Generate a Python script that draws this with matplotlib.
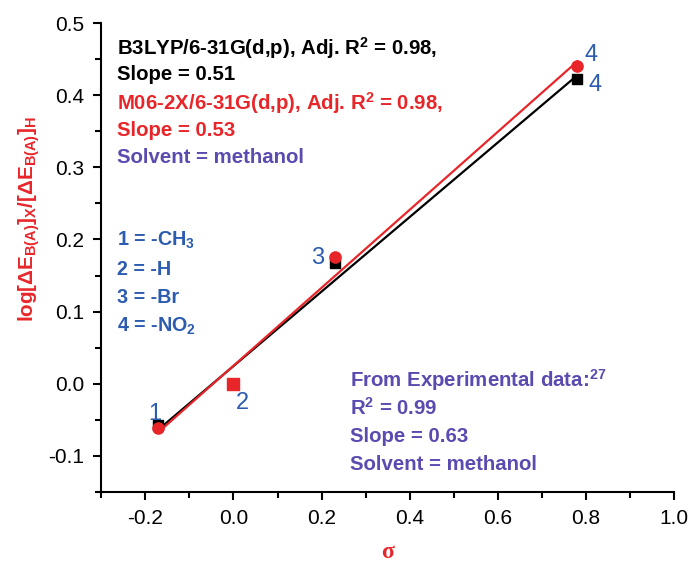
import numpy as np
import matplotlib
matplotlib.use("Agg")
import matplotlib.pyplot as plt

plt.rcParams['font.family'] = ['Liberation Sans', 'DejaVu Sans']
plt.rcParams['mathtext.fontset'] = 'custom'
plt.rcParams['mathtext.rm'] = 'Liberation Sans'
plt.rcParams['mathtext.bf'] = 'Liberation Sans:bold'
plt.rcParams['mathtext.it'] = 'Liberation Sans:italic'

# Hammett constants and log ratios
sigma = [-0.17, 0.0, 0.23, 0.78]
b3lyp = [-0.057, 0.0, 0.167, 0.422]
m062x = [-0.062, 0.0, 0.176, 0.440]
point_labels = ['1', '2', '3', '4']

RED = '#e8262a'
PURPLE = '#5a4bb0'
BLUE = '#2c5cb0'
FS = 14.7

fig = plt.figure(figsize=(6.93, 5.62), dpi=100)
ax = fig.add_axes([0.146, 0.1246, 0.827, 0.8344])

xs = np.array(sigma)
for ys, col in [(b3lyp, 'black'), (m062x, RED)]:
    k, c = np.polyfit(xs, ys, 1)
    ax.plot([xs.min(), xs.max()], [k * xs.min() + c, k * xs.max() + c], color=col, lw=1.6, zorder=2)

ax.scatter(sigma, b3lyp, marker='s', s=55, color='black', zorder=3)
ax.scatter(sigma[:1] + sigma[2:], m062x[:1] + m062x[2:], marker='o', s=65, color=RED, zorder=4)
ax.scatter(sigma[1:2], m062x[1:2], marker='s', s=65, color=RED, zorder=4)

# point numbers
lab_pos = [(-0.178, -0.042), (0.02, -0.026), (0.19, 0.174), (0.812, 0.456)]
for (x, y), t in zip(lab_pos, point_labels):
    ax.text(x, y, t, color=BLUE, fontsize=17, ha='center', va='center')
ax.text(0.82, 0.414, point_labels[3], color=BLUE, fontsize=17, ha='center', va='center')

# annotations
tx = -0.264
ax.text(tx, 0.465, r'B3LYP/6-31G(d,p), Adj. R$^\mathbf{2}$ = 0.98,', color='black',
        fontsize=FS, fontweight='bold', va='center')
ax.text(tx, 0.428, 'Slope = 0.51', color='black', fontsize=FS, fontweight='bold', va='center')
ax.text(tx, 0.389, r'M06-2X/6-31G(d,p), Adj. R$^\mathbf{2}$ = 0.98,', color=RED,
        fontsize=FS, fontweight='bold', va='center')
ax.text(tx, 0.351, 'Slope = 0.53', color=RED, fontsize=FS, fontweight='bold', va='center')
ax.text(tx, 0.314, 'Solvent = methanol', color=PURPLE, fontsize=FS, fontweight='bold', va='center')

subs = [r'1 = -CH$_\mathbf{3}$', '2 = -H', '3 = -Br', r'4 = -NO$_\mathbf{2}$']
for i, s in enumerate(subs):
    ax.text(tx, 0.199 - i * 0.04, s, color=BLUE, fontsize=14.2, fontweight='bold', va='center')

ex = 0.265
exp_lines = [r'From Experimental data:$^\mathbf{27}$', r'R$^\mathbf{2}$ = 0.99',
             'Slope = 0.63', 'Solvent = methanol']
for i, s in enumerate(exp_lines):
    ax.text(ex, 0.005 - i * 0.039, s, color=PURPLE, fontsize=FS, fontweight='bold', va='center')

ax.set_xlim(-0.3, 1.0)
ax.set_ylim(-0.15, 0.5)
ax.set_xticks([-0.2, 0.0, 0.2, 0.4, 0.6, 0.8, 1.0])
ax.set_xticks(np.arange(-0.3, 1.01, 0.1), minor=True)
ax.set_yticks([-0.1, 0.0, 0.1, 0.2, 0.3, 0.4, 0.5])
ax.set_yticks(np.arange(-0.15, 0.51, 0.05), minor=True)
ax.set_xticklabels(['-0.2', '0.0', '0.2', '0.4', '0.6', '0.8', '1.0'])
ax.set_yticklabels(['-0.1', '0.0', '0.1', '0.2', '0.3', '0.4', '0.5'])
ax.tick_params(which='major', direction='out', length=6, width=1.5, labelsize=15, pad=6)
ax.tick_params(which='minor', direction='out', length=4, width=1.5)
for s in ['top', 'right']:
    ax.spines[s].set_visible(False)
for s in ['left', 'bottom']:
    ax.spines[s].set_linewidth(1.5)

ax.set_xlabel('σ', color=RED, fontsize=17, family='Liberation Serif', fontweight='bold', labelpad=10)
fig.text(29 / 693, 1 - 219 / 562, r'$\mathbf{log[\Delta E_{B(A)}]_X/[\Delta E_{B(A)}]_H}$',
         color=RED, fontsize=14.9, rotation=90, ha='center', va='center')

fig.savefig('out.png', dpi=100)
